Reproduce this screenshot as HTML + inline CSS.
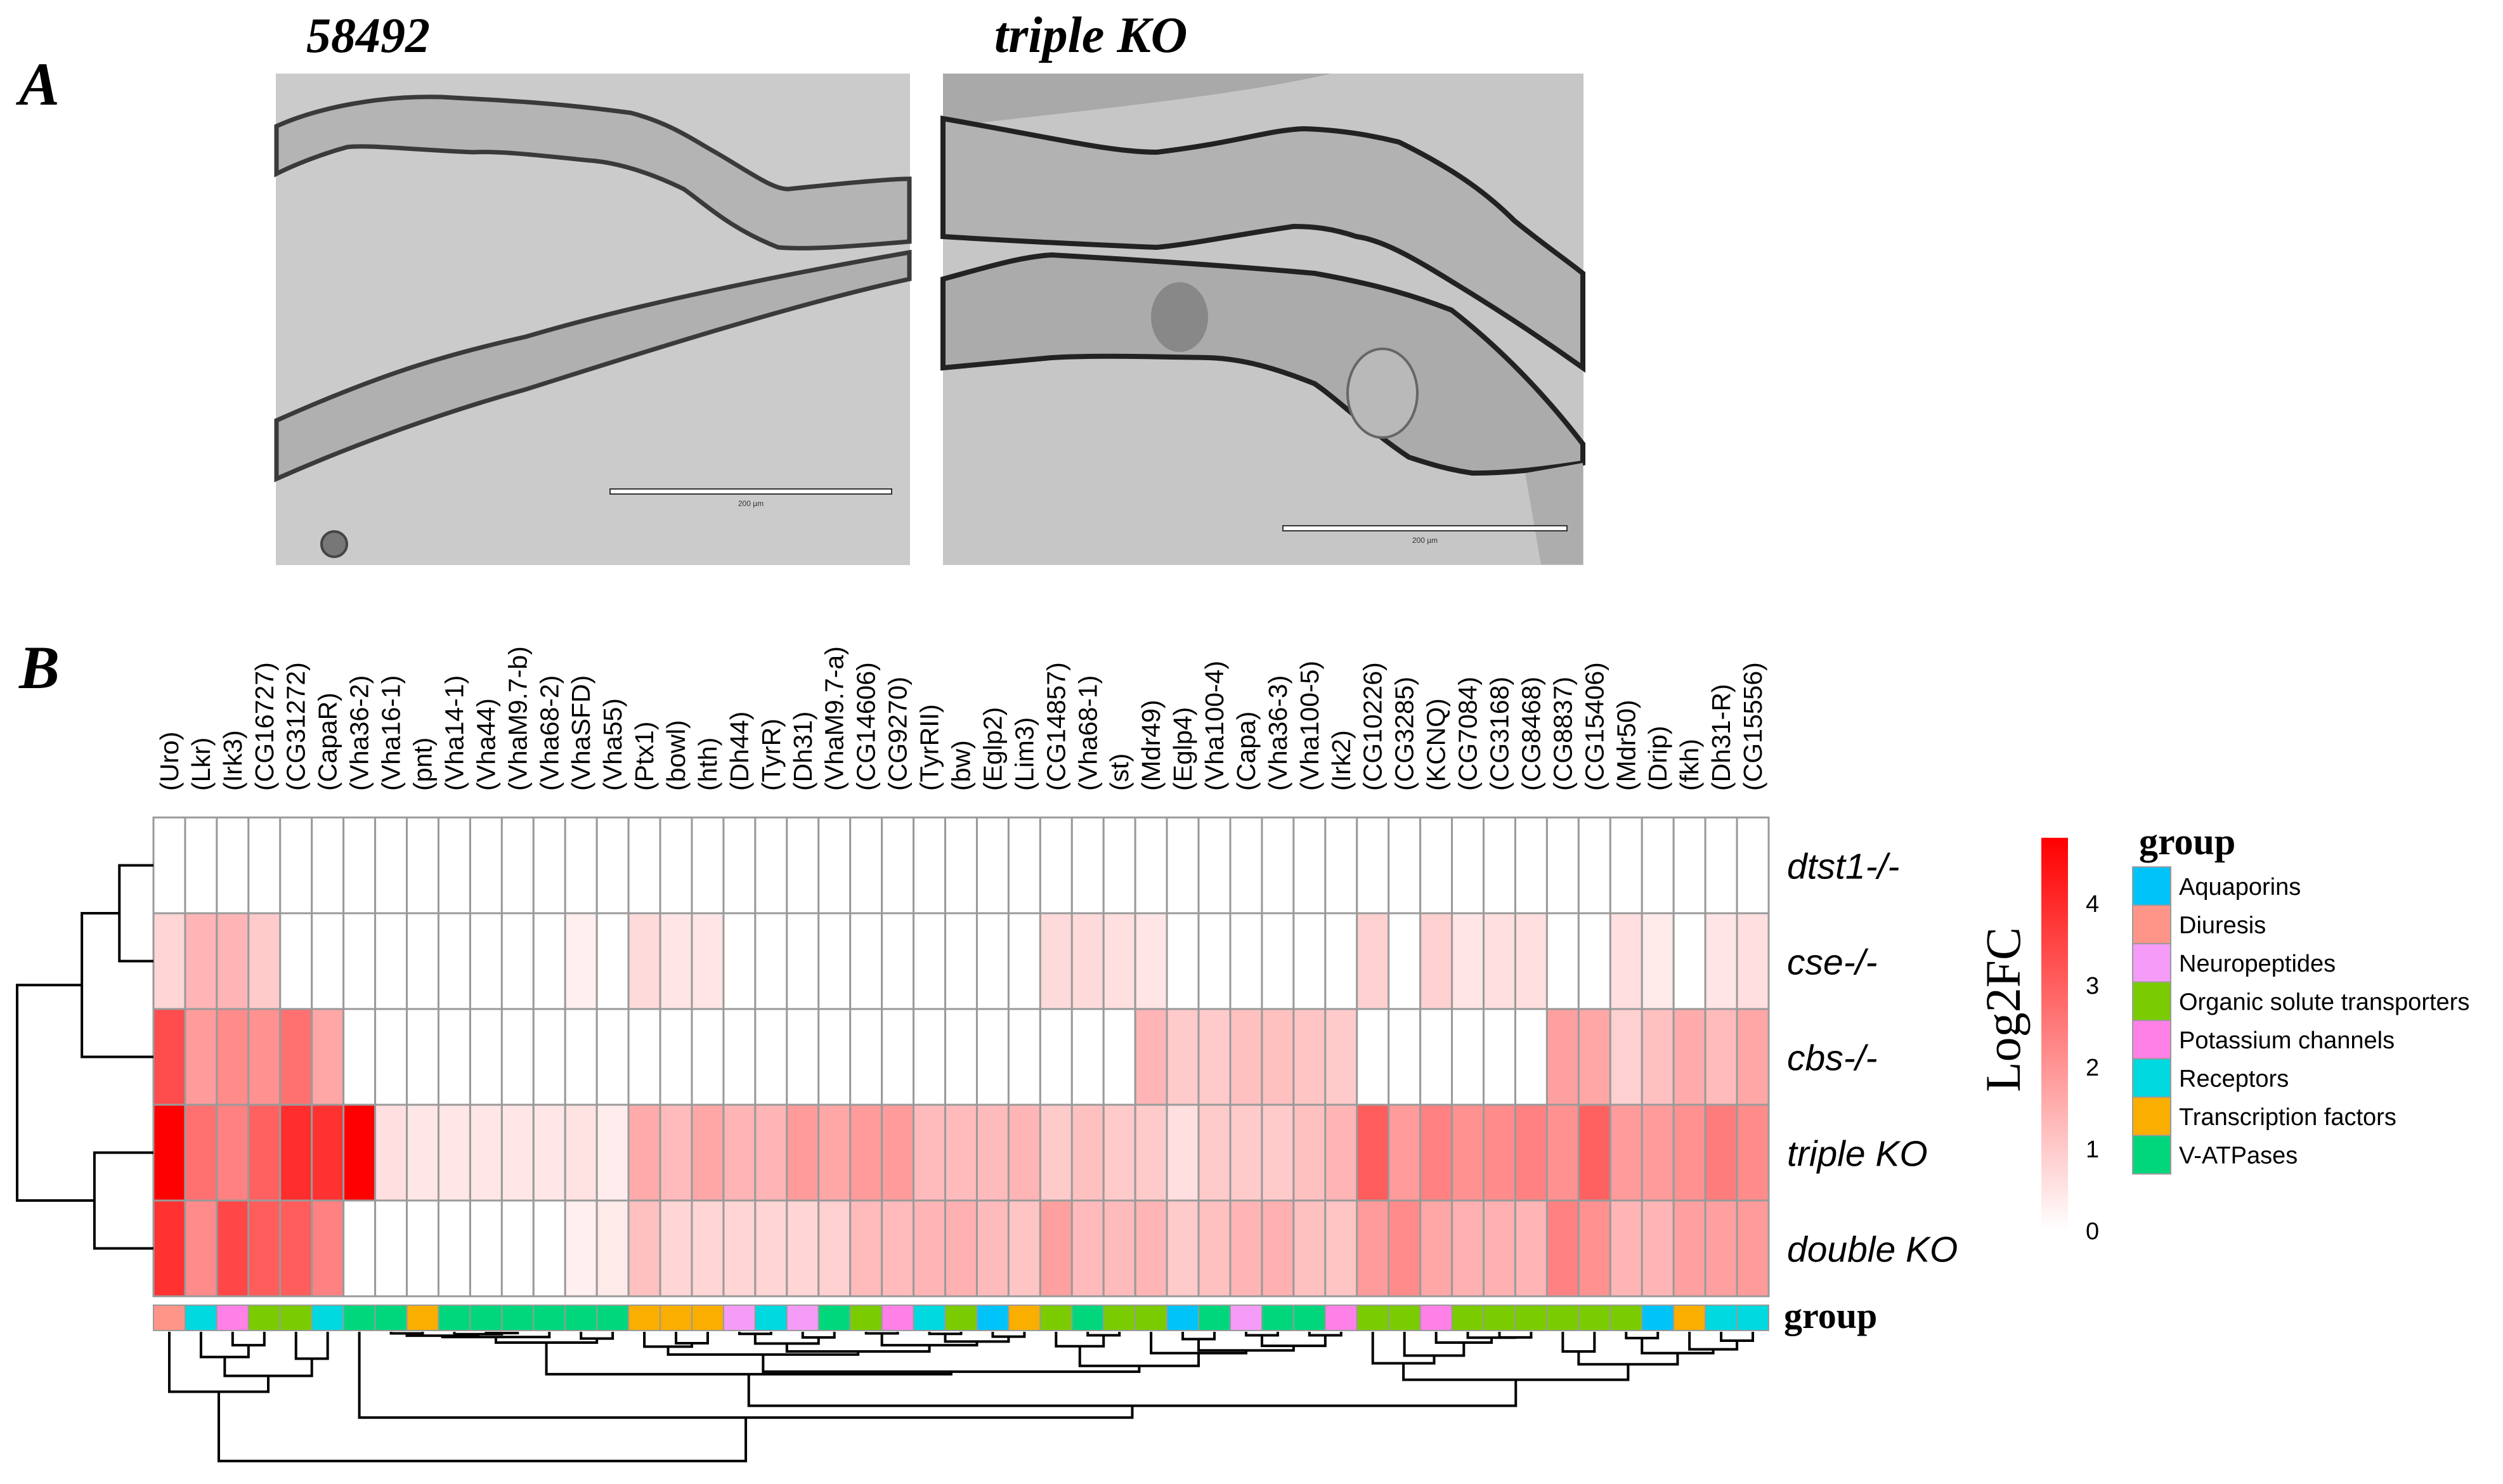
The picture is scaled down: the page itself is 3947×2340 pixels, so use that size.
<!DOCTYPE html>
<html><head><meta charset="utf-8"><style>
html,body{margin:0;padding:0;background:#fff;}
svg{display:block;}
</style></head><body>
<svg id="fig" xmlns="http://www.w3.org/2000/svg" width="3947" height="2340" viewBox="0 0 3947 2340">
<rect x="0" y="0" width="3947" height="2340" fill="#fff"/>
<!-- Panel A -->
<text x="30" y="165" font-family="Liberation Serif, serif" font-weight="bold" font-style="italic" font-size="96">A</text>
<text x="483" y="82" font-family="Liberation Serif, serif" font-weight="bold" font-style="italic" font-size="78">58492</text>
<text x="1568" y="82" font-family="Liberation Serif, serif" font-weight="bold" font-style="italic" font-size="80">triple KO</text>
<g>
<rect x="435" y="116" width="1000" height="775" fill="#cbcbcb"/>
<path d="M436,199 C500,170 600,150 697,153 C780,158 860,160 995,178 C1060,195 1100,225 1128,240 C1180,270 1220,300 1244,298 C1320,290 1400,282 1434,282 L1434,381 C1380,385 1280,395 1227,390 C1150,360 1110,320 1078,298 C1010,265 960,255 929,253 C850,245 790,238 746,240 C650,236 580,228 547,232 C500,245 460,262 436,274 Z" fill="#b4b4b4" stroke="#3a3a3a" stroke-width="7"/>
<path d="M436,663 C600,590 700,560 829,531 C1000,480 1250,430 1434,398 L1434,440 C1250,480 1000,560 829,614 C700,650 560,700 436,755 Z" fill="#b0b0b0" stroke="#3a3a3a" stroke-width="7"/>
<circle cx="527" cy="858" r="20" fill="#777" stroke="#444" stroke-width="4"/>
<rect x="962" y="771" width="444" height="8" fill="#fff" stroke="#333" stroke-width="2"/>
<text x="1184" y="798" font-family="Liberation Sans, sans-serif" font-size="12" text-anchor="middle" fill="#333">200 µm</text>
</g>
<g>
<rect x="1487" y="116" width="1010" height="775" fill="#c6c6c6"/>
<path d="M1487,116 L2100,116 C1950,150 1750,170 1487,200 Z" fill="#a9a9a9"/>
<path d="M1487,187 C1650,215 1750,240 1824,240 C1950,225 2000,205 2056,203 C2120,205 2170,215 2206,224 C2300,270 2350,310 2388,348 C2440,390 2470,410 2496,431 L2496,580 C2440,540 2380,500 2322,464 C2250,420 2190,380 2139,373 C2100,360 2070,357 2040,357 C1950,370 1880,385 1824,390 C1700,385 1600,380 1487,373 Z" fill="#b2b2b2" stroke="#222" stroke-width="8"/>
<path d="M1487,440 C1560,420 1610,405 1658,402 C1800,410 1950,420 2073,431 C2180,450 2240,470 2289,489 C2380,560 2450,640 2496,700 L2496,730 C2430,740 2380,746 2322,746 C2280,740 2250,730 2222,721 C2160,680 2110,630 2073,605 C2010,580 1960,566 1907,564 C1800,562 1720,560 1658,564 C1590,570 1530,576 1487,580 Z" fill="#ababab" stroke="#222" stroke-width="8"/>
<ellipse cx="1860" cy="500" rx="45" ry="55" fill="#888"/>
<ellipse cx="2180" cy="620" rx="55" ry="70" fill="#b9b9b9" stroke="#666" stroke-width="4"/>
<path d="M2405,746 L2496,730 L2496,890 L2430,890 Z" fill="#adadad"/>
<rect x="2023" y="829" width="448" height="8" fill="#fff" stroke="#333" stroke-width="2"/>
<text x="2247" y="856" font-family="Liberation Sans, sans-serif" font-size="12" text-anchor="middle" fill="#333">200 µm</text>
</g>
<!-- Panel B -->
<text x="30" y="1085" font-family="Liberation Serif, serif" font-weight="bold" font-style="italic" font-size="96">B</text>
<g id="heat"></g>
<g id="colLabels"></g>
<g id="rowLabels"></g>
<g id="groupBar"></g>
<g id="colDendro"></g>
<g id="rowDendro"></g>
<text x="2813" y="2094" font-family="Liberation Serif, serif" font-weight="bold" font-size="58">group</text>
<defs><linearGradient id="cbg" x1="0" y1="1" x2="0" y2="0"><stop offset="0" stop-color="#fff"/><stop offset="1" stop-color="#f00"/></linearGradient></defs>
<g id="colorbar"></g>
<text transform="translate(3185,1592) rotate(-90)" text-anchor="middle" font-family="Liberation Serif, serif" font-size="78">Log2FC</text>
<g id="legend"></g>
</svg>
<script>
const genes = ["Uro","Lkr","Irk3","CG16727","CG31272","CapaR","Vha36-2","Vha16-1","pnt","Vha14-1","Vha44","VhaM9.7-b","Vha68-2","VhaSFD","Vha55","Ptx1","bowl","hth","Dh44","TyrR","Dh31","VhaM9.7-a","CG14606","CG9270","TyrRII","bw","Eglp2","Lim3","CG14857","Vha68-1","st","Mdr49","Eglp4","Vha100-4","Capa","Vha36-3","Vha100-5","Irk2","CG10226","CG3285","KCNQ","CG7084","CG3168","CG8468","CG8837","CG15406","Mdr50","Drip","fkh","Dh31-R","CG15556"];
const samples = ["dtst1-/-","cse-/-","cbs-/-","triple KO","double KO"];
const valsDtst1 = [0,0,0,0,0,0,0,0,0,0,0,0,0,0,0,0,0,0,0,0,0,0,0,0,0,0,0,0,0,0,0,0,0,0,0,0,0,0,0,0,0,0,0,0,0,0,0,0,0,0,0];
const valsCse = [0.8,1.4,1.4,1.0,0,0,0,0,0,0,0,0,0,0.3,0,0.7,0.5,0.5,0,0,0,0,0,0,0,0,0,0,0.7,0.7,0.6,0.5,0,0,0,0,0,0,0.9,0,0.9,0.5,0.6,0.6,0,0,0.6,0.4,0,0.5,0.6];
const valsCbs = [3.4,1.9,2.2,2.1,2.7,1.7,0,0,0,0,0,0,0,0,0,0,0,0,0,0,0,0,0,0,0,0,0,0,0,0,0,1.4,1.0,1.0,1.2,1.2,1.1,1.0,0,0,0,0,0,0,1.8,1.7,0.9,1.2,1.6,1.3,1.7];
const valsTriple = [4.85,2.7,2.4,3.0,4.0,3.9,4.85,0.6,0.45,0.45,0.45,0.45,0.45,0.55,0.35,1.6,1.3,1.7,1.4,1.4,1.9,1.7,1.9,1.9,1.3,1.3,1.3,1.4,1.0,1.2,1.0,1.0,0.6,1.0,1.0,1.0,1.2,1.4,3.1,1.9,2.4,2.1,2.2,2.4,2.1,3.0,1.9,1.9,2.1,2.5,2.2];
const valsDouble = [3.9,2.2,3.5,3.1,3.1,2.4,0,0,0,0,0,0,0,0.3,0.4,1.2,0.8,0.8,0.8,0.8,0.8,0.9,1.3,1.3,1.4,1.5,1.3,1.1,1.8,1.3,1.3,1.4,1.0,1.2,1.4,1.5,1.2,1.1,1.9,2.2,1.7,1.5,1.5,1.4,2.4,2.1,1.4,1.4,1.8,1.8,1.9];
const groupNames = ["Aquaporins","Diuresis","Neuropeptides","Organic solute transporters","Potassium channels","Receptors","Transcription factors","V-ATPases"];
const geneGroups = [1,5,4,3,3,5,7,7,6,7,7,7,7,7,7,6,6,6,2,5,2,7,3,4,5,3,0,6,3,7,3,3,0,7,2,7,7,4,3,3,4,3,3,3,3,3,3,0,6,5,5];
const colorTicks = [0,1,2,3,4];
const rowMerges = [[0,1,2.5],[100,2,5.25],[3,4,4.33],[101,102,10]];
const colMerges = [[2,3,1.03],[1,100,1.94],[4,5,2.07],[101,102,3.39],[0,103,4.61],[7,8,0.12],[10,11,0.1],[9,106,0.18],[105,107,0.3],[108,12,0.4],[13,14,0.52],[109,110,0.83],[16,17,0.88],[15,112,1.14],[18,19,0.16],[20,21,0.43],[114,115,0.9],[22,23,0.12],[24,25,0.16],[26,27,0.37],[118,119,0.75],[117,120,1.03],[116,121,1.51],[113,122,1.75],[29,30,0.27],[28,124,1.11],[32,33,0.56],[34,35,0.27],[36,37,0.27],[127,128,1.08],[126,129,1.43],[31,130,1.64],[125,131,2.62],[123,132,3.07],[111,133,3.26],[42,43,0.43],[41,135,0.45],[40,136,0.83],[39,137,1.83],[38,138,2.42],[44,45,1.51],[46,47,0.48],[49,50,0.68],[48,142,1.35],[141,143,1.64],[140,144,2.5],[139,145,3.69],[134,146,5.69],[6,147,6.6],[104,148,9.94]];

const NS="http://www.w3.org/2000/svg";
const rows=[valsDtst1,valsCse,valsCbs,valsTriple,valsDouble];
const groupColors=["#00C3FA","#FF9488","#F49CF7","#7ACC00","#FF80E6","#00D9E0","#F9AE00","#00D77D"];
const HX0=242,HX1=2789,HY0=1289,HY1=2044;
const cw=(HX1-HX0)/genes.length, rh=(HY1-HY0)/samples.length;
const VMAX=4.85;
function xCol(i){return HX0+cw*i;}
function yRow(r){return HY0+rh*r;}
function heatColor(v){const t=Math.max(0,Math.min(1,v/VMAX));const g=Math.round(255*(1-t));return `rgb(255,${g},${g})`;}
function mk(tag,attrs,parent){const e=document.createElementNS(NS,tag);for(const k in attrs)e.setAttribute(k,attrs[k]);parent.appendChild(e);return e;}

const heat=document.getElementById('heat');
rows.forEach((vals,r)=>{vals.forEach((v,i)=>{
  const c=mk('rect',{x:xCol(i),y:yRow(r),width:cw,height:rh,fill:heatColor(v),stroke:'#9a9a9a','stroke-width':3},heat);
  
  
});});

const cl=document.getElementById('colLabels');
genes.forEach((g,i)=>{
  const x=xCol(i)+cw/2+14;
  const t=mk('text',{transform:`translate(${x},1247) rotate(-90)`,'font-family':'Liberation Sans, sans-serif','font-size':41},cl);
  t.textContent='('+g+')';
  
  
});

const rl=document.getElementById('rowLabels');
samples.forEach((s,r)=>{
  const t=mk('text',{x:2818,y:yRow(r)+rh/2+21,'font-family':'Liberation Sans, sans-serif','font-style':'italic','font-size':57},rl);
  t.textContent=s;
  
  
});

const gb=document.getElementById('groupBar');
geneGroups.forEach((g,i)=>{
  const c=mk('rect',{x:xCol(i),y:2058,width:cw,height:40,fill:groupColors[g],stroke:'#9a9a9a','stroke-width':2},gb);
  
  
});

const cd=document.getElementById('colDendro');
const CY0=2100, CS=20.5;
const cpos=[];
function cNode(id){return id>=100?cpos[id-100]:{x:xCol(id)+cw/2,y:CY0};}
colMerges.forEach((m,k)=>{
  const a=cNode(m[0]),b=cNode(m[1]);const y=CY0+m[2]*CS;
  const p=mk('path',{d:`M${a.x},${a.y}V${y}H${b.x}V${b.y}`,fill:'none',stroke:'#000','stroke-width':4},cd);
  
  
  cpos[k]={x:(a.x+b.x)/2,y:y};
});
const rd=document.getElementById('rowDendro');
const RS=21.5;
const rpos=[];
function rNode(id){return id>=100?rpos[id-100]:{x:HX0,y:yRow(id)+rh/2};}
rowMerges.forEach((m,k)=>{
  const a=rNode(m[0]),b=rNode(m[1]);const x=HX0-m[2]*RS;
  const p=mk('path',{d:`M${a.x},${a.y}H${x}V${b.y}H${b.x}`,fill:'none',stroke:'#000','stroke-width':4},rd);
  
  
  rpos[k]={x:x,y:(a.y+b.y)/2};
});

const cb=document.getElementById('colorbar');
const CB0=1940,CB1=1321,CBMAX=4.8;
function yCb(v){return CB0-(CB0-CB1)*v/CBMAX;}
const bar=mk('rect',{x:3219,y:CB1,width:42,height:CB0-CB1,fill:'url(#cbg)'},cb);


colorTicks.forEach(v=>{
  const t=mk('text',{x:3289,y:yCb(v)+14,'font-family':'Liberation Sans, sans-serif','font-size':38},cb);
  t.textContent=String(v);
  
  
});

const lg=document.getElementById('legend');
const lt=mk('text',{x:3373,y:1347,'font-family':'Liberation Serif, serif','font-weight':'bold','font-size':60},lg);
lt.textContent='group';


groupNames.forEach((n,i)=>{
  const y=1367+i*60.5;
  const s=mk('rect',{x:3363,y:y,width:60,height:60.5,fill:groupColors[i],stroke:'#9a9a9a','stroke-width':2},lg);
  
  
  const t=mk('text',{x:3436,y:y+44,'font-family':'Liberation Sans, sans-serif','font-size':38},lg);
  t.textContent=n;
  
  
});
</script>
</body></html>
